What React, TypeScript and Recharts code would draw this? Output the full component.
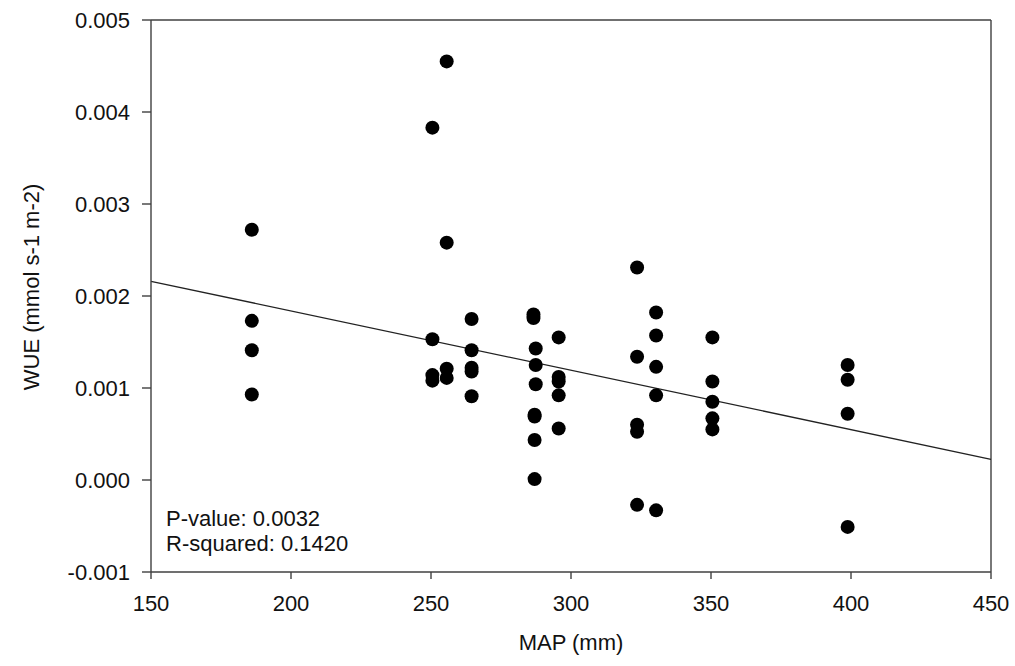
import { ScatterChart, Scatter, XAxis, YAxis, ReferenceLine } from 'recharts'

// MAP (mm) vs WUE (mmol s-1 m-2)
const mapMm = [
  186, 186, 186, 186,
  250.5, 250.5, 250.5, 250.5,
  255.6, 255.6, 255.6, 255.6,
  264.5, 264.5, 264.5, 264.5, 264.5,
  286.6, 286.6, 287.4, 287.4, 287.4, 287, 287, 287, 287,
  295.6, 295.6, 295.6, 295.6, 295.6,
  323.6, 323.6, 323.6, 323.6, 323.6,
  330.4, 330.4, 330.4, 330.4, 330.4,
  350.5, 350.5, 350.5, 350.5, 350.5,
  398.8, 398.8, 398.8, 398.8,
]
const wue = [
  0.00272, 0.00173, 0.00141, 0.00093,
  0.00383, 0.00153, 0.00114, 0.00108,
  0.00455, 0.00258, 0.00121, 0.00111,
  0.00175, 0.00141, 0.00122, 0.00118, 0.00091,
  0.00180, 0.00176, 0.00143, 0.00125, 0.00104, 0.00071, 0.00069, 0.000435, 0.00001,
  0.00155, 0.00112, 0.00107, 0.00092, 0.00056,
  0.00231, 0.00134, 0.00060, 0.000525, -0.00027,
  0.00182, 0.00157, 0.00123, 0.00092, -0.00033,
  0.00155, 0.00107, 0.00085, 0.00067, 0.00055,
  0.00125, 0.00109, 0.00072, -0.00051,
]

// regression line end points
const fitX = [150, 450]
const fitY = [0.00216, 0.000225]

const xTicks = [150, 200, 250, 300, 350, 400, 450]
const yTicks = [-0.001, 0, 0.001, 0.002, 0.003, 0.004, 0.005]

const stats = ['P-value: 0.0032', 'R-squared: 0.1420']

const data = mapMm.map((x, i) => ({ x, y: wue[i] }))

const FONT = '"Liberation Sans", Arial, sans-serif'
const AXIS = '#404040'
const tickStyle = { fill: '#111', fontSize: 22, fontFamily: FONT }

const Dot = ({ cx, cy }: any) => <circle cx={cx} cy={cy} r={7} fill="#000" />

const YTitle = () => (
  <text x={31} y={287} transform="rotate(-90 31 287)" textAnchor="middle" dominantBaseline="central"
    fill="#111" fontSize={22} fontFamily={FONT}>
    WUE (mmol s-1 m-2)
  </text>
)

const XTitle = () => (
  <text x={571} y={642} textAnchor="middle" dominantBaseline="central"
    fill="#111" fontSize={22} fontFamily={FONT}>
    MAP (mm)
  </text>
)

export default function App() {
  return (
    <div style={{ position: 'absolute', left: 0, top: 0, width: 1015, height: 666, background: '#fff' }}>
      <ScatterChart width={1015} height={666} margin={{ top: 20, right: 24, bottom: 0, left: 0 }}>
        <XAxis
          type="number" dataKey="x" domain={[150, 450]} ticks={xTicks} height={94}
          allowDataOverflow
          stroke={AXIS} strokeWidth={1.4}
          tick={tickStyle} tickSize={7} tickMargin={16}
          label={<XTitle />}
        />
        <YAxis
          type="number" dataKey="y" domain={[-0.001, 0.005]} ticks={yTicks} width={151}
          allowDataOverflow
          stroke={AXIS} strokeWidth={1.4}
          tick={tickStyle} tickSize={9} tickMargin={12}
          tickFormatter={(v: number) => v.toFixed(3)}
          label={<YTitle />}
        />
        <ReferenceLine y={0.005} stroke={AXIS} strokeWidth={1.4} />
        <ReferenceLine x={450} stroke={AXIS} strokeWidth={1.4} />
        <ReferenceLine
          segment={[{ x: fitX[0], y: fitY[0] }, { x: fitX[1], y: fitY[1] }]}
          stroke="#222" strokeWidth={1.3}
        />
        <Scatter data={data} shape={<Dot />} isAnimationActive={false} />
      </ScatterChart>
      <div style={{ position: 'absolute', left: 166, top: 506, fontFamily: FONT, fontSize: 22, lineHeight: '25px', color: '#111' }}>
        {stats.map(s => <div key={s}>{s}</div>)}
      </div>
    </div>
  )
}
